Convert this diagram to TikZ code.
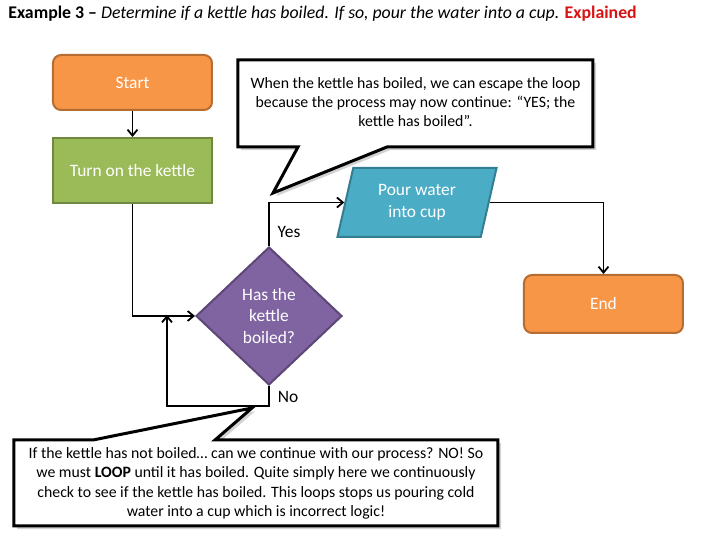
\documentclass[tikz,border=0pt]{standalone}
\usepackage{fontspec}
\setmainfont{Carlito}
\usetikzlibrary{shapes.geometric,shadows,arrows.meta}

\definecolor{kettleorange}{HTML}{F79646}
\definecolor{orangeline}{HTML}{B66D31}
\definecolor{kettlegreen}{HTML}{9BBB59}
\definecolor{greenline}{HTML}{71893F}
\definecolor{kettlepurple}{HTML}{8064A2}
\definecolor{purpleline}{HTML}{5C4776}
\definecolor{kettleblue}{HTML}{4BACC6}
\definecolor{blueline}{HTML}{357D91}
\definecolor{explainred}{RGB}{215,20,20}

\newcommand{\boxfont}{\fontsize{8.7}{10.8}\selectfont}
\newcommand{\notefont}{\fontsize{7.9}{9.7}\selectfont}

\tikzset{
  terminal/.style={rectangle,rounded corners=4pt,draw=orangeline,fill=kettleorange,
    line width=1pt,minimum width=79.5pt,text=white,font=\boxfont},
  process/.style={rectangle,draw=greenline,fill=kettlegreen,line width=1pt,
    minimum width=79.5pt,minimum height=32.5pt,text=white,font=\boxfont},
  decision/.style={diamond,draw=purpleline,fill=kettlepurple,line width=1pt,
    minimum width=73pt,minimum height=69pt,inner sep=0pt,text=white,align=center,font=\boxfont},
  io/.style={trapezium,trapezium left angle=77,trapezium right angle=103,trapezium stretches=true,
    draw=blueline,fill=kettleblue,line width=1pt,minimum width=80pt,minimum height=34.5pt,
    text=white,align=center,font=\boxfont},
  flowline/.style={-{Straight Barb[length=3pt,width=5pt]},line width=0.9pt},
  callbox/.style={draw=black,fill=white,line width=1.5pt,line join=miter,
    drop shadow={shadow xshift=1.6pt,shadow yshift=-1.6pt,opacity=0.35}},
  notetext/.style={align=center,font=\notefont,inner sep=0pt}
}

\begin{document}
\begin{tikzpicture}[x=0.5pt,y=-0.5pt]
\useasboundingbox (0,0) rectangle (720,540);

\node[anchor=west,font=\fontsize{8.9}{10}\selectfont,inner sep=0pt] (title) at (8,14)
  {\textbf{Example 3 –} \textit{Determine if a kettle has boiled. If so, pour the water into a cup.} \textcolor{explainred}{\textbf{Explained}}};

% flowchart
\node[terminal,minimum height=27.5pt] (start) at (132.5,82.5) {Start};
\node[process] (turn) at (132.5,170.5) {Turn on the kettle};
\node[decision] (boiled) at (269,316) {Has the\\kettle\\boiled?};
\node[io] (pour) at (417,202.5) {Pour water\\into cup};
\node[terminal,minimum height=29pt] (end) at (603.5,304) {End};

\coordinate (join) at (167,315);
\coordinate (loopc) at (167,406);

\draw[flowline] (start) -- (turn);
\draw[flowline] (turn.south) |- (boiled.west);
\draw[flowline] (boiled.south) |- (loopc) -- (join);
\draw[flowline] (boiled.north) |- (pour.left side);
\draw[flowline] (pour.right side) -| (end.north);

\node[font=\boxfont] (yes) at (289,232) {Yes};
\node[font=\boxfont] (no) at (288,397) {No};

% callouts
\draw[callbox] (238,60) -- (593,60) -- (593,147) -- (387,147) -- (273,193) -- (298,147) -- (238,147) -- cycle;
\node[notetext] (yesnote) at (415.5,102)
  {When the kettle has boiled, we can escape the loop\\because the process may now continue: “YES; the\\kettle has boiled”.};

\draw[callbox] (14,440) -- (93,440) -- (252,408) -- (215,440) -- (498,440) -- (498,526) -- (14,526) -- cycle;
\node[notetext] (nonote) at (256,483.5)
  {If the kettle has not boiled… can we continue with our process? NO! So\\we must \textbf{LOOP} until it has boiled. Quite simply here we continuously\\check to see if the kettle has boiled. This loops stops us pouring cold\\water into a cup which is incorrect logic!};
\end{tikzpicture}
\end{document}
